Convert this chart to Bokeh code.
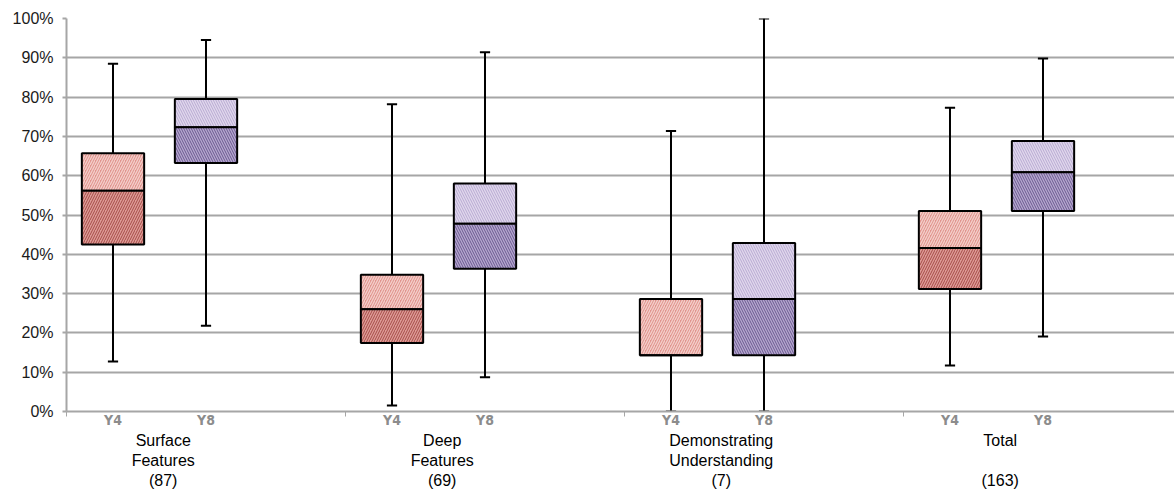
from bokeh.plotting import figure
from bokeh.models import (Range1d, FixedTicker, NumeralTickFormatter, LinearAxis,
                          ColumnDataSource)
from bokeh.embed import file_html
from bokeh.resources import INLINE

# ---------------- data (percent) ----------------
categories = ["Surface\nFeatures", "Deep\nFeatures", "Demonstrating\nUnderstanding", "Total\n"]
counts = [87, 69, 7, 163]
years = ["Y4", "Y8"]

y4_min = [12.7, 1.5, 0.0, 11.7]
y4_q1 = [42.5, 17.4, 14.3, 31.2]
y4_med = [56.2, 26.0, 14.3, 41.6]
y4_q3 = [65.7, 34.8, 28.6, 51.0]
y4_max = [88.5, 78.2, 71.4, 77.3]

y8_min = [21.8, 8.7, 0.0, 19.1]
y8_q1 = [63.2, 36.3, 14.3, 51.0]
y8_med = [72.3, 47.8, 28.6, 60.9]
y8_q3 = [79.5, 58.0, 42.9, 68.8]
y8_max = [94.5, 91.4, 100.0, 89.8]

GRID = "#A6A6A6"
FONT = "Liberation Sans"

p = figure(width=1174, height=493,
           x_range=Range1d(0, 11.914), y_range=Range1d(0, 1),
           output_backend="svg", toolbar_location=None,
           min_border_left=66, min_border_right=0,
           min_border_top=18, min_border_bottom=82)
p.outline_line_color = None
p.background_fill_color = "white"
p.border_fill_color = "white"

# y axis
yt = FixedTicker(ticks=[i / 10 for i in range(11)], minor_ticks=[])
p.yaxis.ticker = yt
p.yaxis.formatter = NumeralTickFormatter(format="0%")
p.yaxis.major_label_text_font = FONT
p.yaxis.major_label_text_font_size = "16px"
p.yaxis.major_label_text_color = "#1a1a1a"
p.yaxis.axis_line_color = GRID
p.yaxis.axis_line_width = 2
p.yaxis.major_tick_line_color = GRID
p.yaxis.major_tick_line_width = 2
p.yaxis.major_tick_out = 4
p.yaxis.major_tick_in = 0
p.yaxis.minor_tick_out = 0
p.yaxis.minor_tick_in = 0
p.yaxis.major_label_standoff = 9
p.ygrid.ticker = yt
p.ygrid.grid_line_color = GRID
p.ygrid.grid_line_width = 2
p.xgrid.visible = False

# positions
n = len(categories)
x4 = [i * 3 + 0.5 for i in range(n)]
x8 = [i * 3 + 1.5 for i in range(n)]
xg = [i * 3 + 1.04 for i in range(n)]
seps = [i * 3 for i in range(n)]
half_box = 0.335
half_cap = 0.055

# x axis 1: Y4 / Y8 labels, separator ticks as minor ticks
xa = p.xaxis[0]
xa.ticker = FixedTicker(ticks=sorted(x4 + x8), minor_ticks=seps)
overrides = {}
for x in x4:
    overrides[x] = years[0]
for x in x8:
    overrides[x] = years[1]
xa.major_label_overrides = overrides
xa.major_label_text_font = "Liberation Sans Narrow, DejaVu Sans Condensed, Liberation Sans, sans-serif"
xa.major_label_text_font_style = "bold"
xa.major_label_text_font_size = "14px"
xa.major_label_text_color = "#8C8C8C"
xa.major_label_standoff = -5
xa.axis_line_color = GRID
xa.axis_line_width = 2
xa.major_tick_out = 0
xa.major_tick_in = 0
xa.minor_tick_line_color = GRID
xa.minor_tick_line_width = 1
xa.minor_tick_out = 5
xa.minor_tick_in = 0

# x axis 2: group labels
ga = LinearAxis(ticker=FixedTicker(ticks=xg, minor_ticks=[]))
ga.major_label_overrides = {x: "%s\n(%d)" % (c, k) for x, c, k in zip(xg, categories, counts)}
ga.major_label_text_font = FONT
ga.major_label_text_font_size = "16px"
ga.major_label_text_color = "black"
ga.major_label_standoff = 1
ga.axis_line_color = None
ga.major_tick_line_color = None
ga.minor_tick_line_color = None
ga.major_tick_out = 0
ga.minor_tick_out = 0
p.add_layout(ga, "below")

def draw(xs, mn, q1, med, q3, mx, upper_fill, upper_hatch, lower_fill, lower_hatch, pat):
    f = lambda a: [v / 100 for v in a]
    src = ColumnDataSource(dict(
        x=xs, left=[x - half_box for x in xs], right=[x + half_box for x in xs],
        cl=[x - half_cap for x in xs], cr=[x + half_cap for x in xs],
        mn=f(mn), q1=f(q1), med=f(med), q3=f(q3), mx=f(mx)))
    p.segment(x0="x", x1="x", y0="mn", y1="mx", source=src, line_color="black", line_width=2)
    p.segment(x0="cl", x1="cr", y0="mx", y1="mx", source=src, line_color="black", line_width=2)
    p.segment(x0="cl", x1="cr", y0="mn", y1="mn", source=src, line_color="black", line_width=2)
    p.quad(left="left", right="right", bottom="med", top="q3", source=src,
           fill_color=upper_fill, hatch_pattern=pat, hatch_color=upper_hatch,
           hatch_scale=5, hatch_weight=1.3, line_color="black", line_width=2)
    p.quad(left="left", right="right", bottom="q1", top="med", source=src,
           fill_color=lower_fill, hatch_pattern=pat, hatch_color=lower_hatch,
           hatch_scale=5, hatch_weight=1.0, line_color="black", line_width=2)

draw(x4, y4_min, y4_q1, y4_med, y4_q3, y4_max,
     "#E0948E", "#F4CFCB", "#DE9C97", "#A54B47", "/")
draw(x8, y8_min, y8_q1, y8_med, y8_q3, y8_max,
     "#BBADD4", "#E0D8EC", "#B6A8CF", "#6A5890", "\\")

open("out.html", "w").write(file_html(p, INLINE))
